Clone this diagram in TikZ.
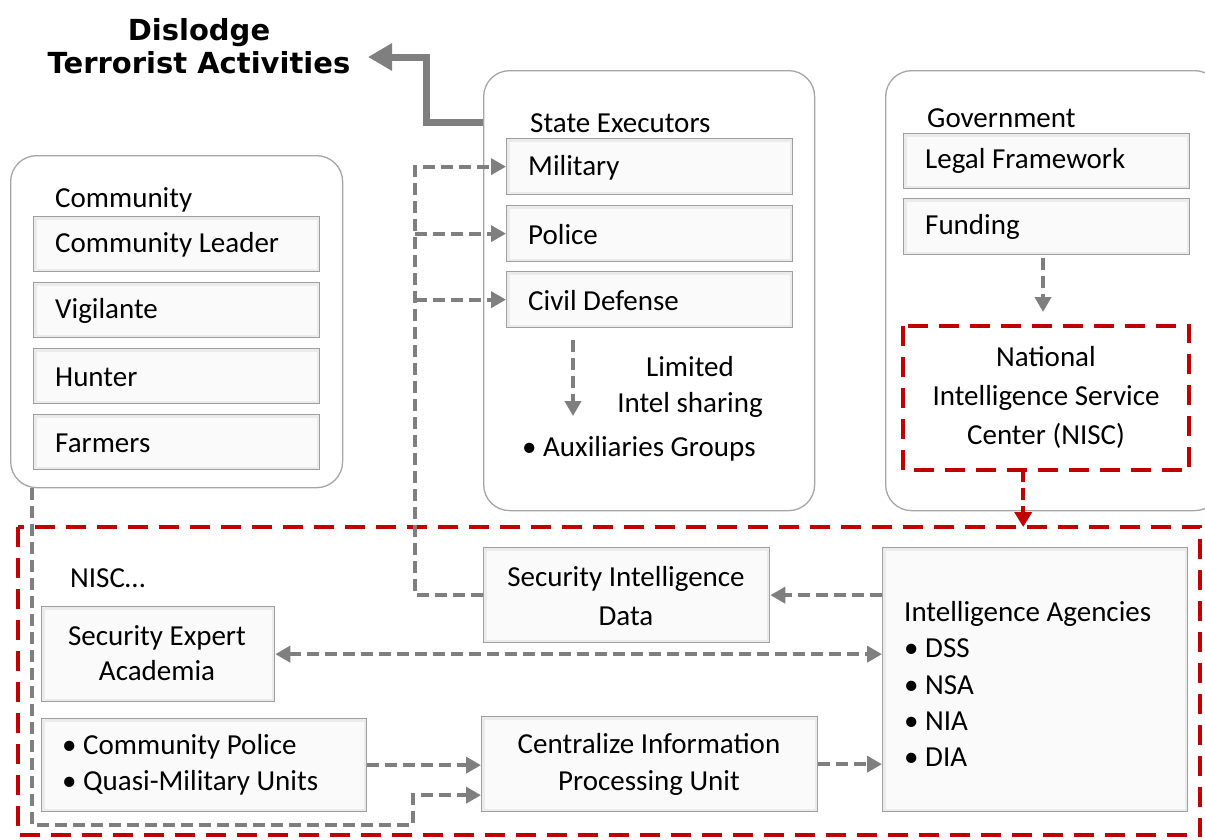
\documentclass[tikz,border=0pt]{standalone}
\usepackage{fontspec}
\setmainfont{Carlito}
\newfontfamily\titlefont{DejaVu Sans}
\usetikzlibrary{arrows.meta,positioning}
\definecolor{cgray}{HTML}{7F7F7F}
\definecolor{cred}{HTML}{C00000}
\begin{document}
\begin{tikzpicture}[x=1pt,y=-1pt,
  every node/.style={font=\fontsize{29}{36}\selectfont},
  group/.style={draw=gray!70, fill=white, line width=1.3pt, rounded corners=26pt, anchor=north west, inner sep=0pt},
  subbox/.style={draw=gray!75, fill=gray!4, line width=1.3pt, anchor=north west, inner sep=0pt,
     path picture={\draw[gray!16,line width=6pt] (path picture bounding box.south west) rectangle (path picture bounding box.north east);}},
  lbl/.style={anchor=west, inner sep=0pt},
  gtip/.style={-{Triangle[length=15pt,width=16pt,fill=cgray]}},
  gdash/.style={draw=cgray, line width=4.2pt, dash pattern=on 12pt off 6pt, gtip},
  rdash/.style={draw=cred, line width=4pt, dash pattern=on 20pt off 11pt},
  rarrow/.style={draw=cred, line width=4pt, dash pattern=on 12pt off 6pt, -{Triangle[length=15pt,width=17pt,fill=cred]}},
]
\useasboundingbox (0,0) rectangle (1205,839);
\clip (0,0) rectangle (1205,839);

% Title
\node[font=\titlefont\bfseries\fontsize{29}{33}\selectfont, align=center, inner sep=0pt] (title) at (199,46) {Dislodge\\Terrorist Activities};

% Community group
\node[group, minimum width=332pt, minimum height=332pt] (comm) at (10,155) {};
\node[lbl] (commt) at (55,200) {Community};
\node[subbox, minimum width=286pt, minimum height=55pt] (cl) at (33,216) {};
\node[lbl] at (55,245) {Community Leader};
\node[subbox, minimum width=286pt, minimum height=55pt] (vig) at (33,282) {};
\node[lbl] at (55,311) {Vigilante};
\node[subbox, minimum width=286pt, minimum height=55pt] (hun) at (33,348) {};
\node[lbl] at (55,377) {Hunter};
\node[subbox, minimum width=286pt, minimum height=55pt] (far) at (33,414) {};
\node[lbl] at (55,443) {Farmers};

% State executors group
\node[group, minimum width=331pt, minimum height=440pt] (se) at (483,70) {};
\node[lbl] (set) at (530,123) {State Executors};
\node[subbox, minimum width=286pt, minimum height=56pt] (mil) at (506,138) {};
\node[lbl] at (528,168) {Military};
\node[subbox, minimum width=286pt, minimum height=56pt] (pol) at (506,205) {};
\node[lbl] at (528,235) {Police};
\node[subbox, minimum width=286pt, minimum height=56pt] (civ) at (506,271) {};
\node[lbl] at (528,301) {Civil Defense};
\node[align=center, inner sep=0pt] (lim) at (690,387) {Limited\\Intel sharing};
\node[lbl] (aux) at (522,449) {• Auxiliaries Groups};

% Government group
\node[group, minimum width=335pt, minimum height=440pt] (gov) at (885,70) {};
\node[lbl] (govt) at (927,118) {Government};
\node[subbox, minimum width=286pt, minimum height=55pt] (leg) at (903,133) {};
\node[lbl] at (925,161) {Legal Framework};
\node[subbox, minimum width=286pt, minimum height=56pt] (fund) at (903,198) {};
\node[lbl] at (925,227) {Funding};
\node[anchor=north west, minimum width=286pt, minimum height=144pt, inner sep=0pt] (nisc) at (903,326) {};
\draw[rdash] (nisc.north west) rectangle (nisc.south east);
\node[align=center, inner sep=0pt, font=\fontsize{29}{39}\selectfont] at (1046,397) {National\\Intelligence Service\\Center (NISC)};

% Big NISC region
\node[anchor=north west, minimum width=1182pt, minimum height=308pt, inner sep=0pt] (big) at (18,527) {};
\draw[rdash] (big.north west) rectangle (big.south east);
\node[lbl] (niscl) at (70,578) {NISC…};

\node[subbox, minimum width=233pt, minimum height=95pt] (sea) at (41,606) {};
\node[align=center, inner sep=0pt, font=\fontsize{29}{35}\selectfont] at (157,653) {Security Expert\\Academia};
\node[subbox, minimum width=325pt, minimum height=93pt] (cp) at (41,718) {};
\node[lbl, align=left, font=\fontsize{29}{36}\selectfont] at (62,765) {• Community Police\\• Quasi-Military Units};
\node[subbox, minimum width=286pt, minimum height=95pt] (sid) at (483,547) {};
\node[align=center, inner sep=0pt, font=\fontsize{29}{39}\selectfont] at (626,596) {Security Intelligence\\Data};
\node[subbox, minimum width=336pt, minimum height=95pt] (cent) at (481,716) {};
\node[align=center, inner sep=0pt, font=\fontsize{29}{37}\selectfont] at (649,764) {Centralize Information\\Processing Unit};
\node[subbox, minimum width=305pt, minimum height=264pt] (ia) at (882,547) {};
\node[lbl, align=left, font=\fontsize{29}{36.3}\selectfont] at (904,684) {Intelligence Agencies\\• DSS\\• NSA\\• NIA\\• DIA};

% Connectors
\coordinate (vx) at (415,0);
\coordinate (ta) at (483,122);
\coordinate (tk) at (426,57);
\coordinate (tip) at (368,57);
\draw[draw=cgray, line width=7pt, -{Triangle[length=24pt,width=26pt,fill=cgray]}] (ta) -| (tk) -- (tip);

\draw[gdash] (sid.west) -| (vx |- mil.west) -- (mil.west);
\draw[gdash] (vx |- pol.west) -- (pol.west);
\draw[gdash] (vx |- civ.west) -- (civ.west);

\coordinate (cd1) at (573,340);
\coordinate (cd2) at (573,416);
\draw[gdash] (cd1) -- (cd2);

\coordinate (f1) at (1043,258);
\coordinate (f2) at (1043,312);
\draw[gdash] (f1) -- (f2);

\coordinate (n1) at ([xshift=-23pt]nisc.south);
\draw[rarrow] (n1) -- (n1 |- big.north);

\draw[gdash] (ia.west |- sid.east) -- (sid.east);
\draw[gdash, {Triangle[length=15pt,width=16pt,fill=cgray]}-{Triangle[length=15pt,width=16pt,fill=cgray]}] (sea.east) -- (ia.west |- sea.east);
\draw[gdash] (cp.east) -- (cent.west |- cp.east);
\draw[gdash] (cent.east) -- (ia.west |- cent.east);

\coordinate (c1) at ([xshift=22pt]comm.south west);
\coordinate (b2) at (413,825);
\coordinate (ce2) at ([yshift=-31pt]cent.west);
\draw[gdash] (c1) |- (b2) |- (ce2);
\end{tikzpicture}
\end{document}
